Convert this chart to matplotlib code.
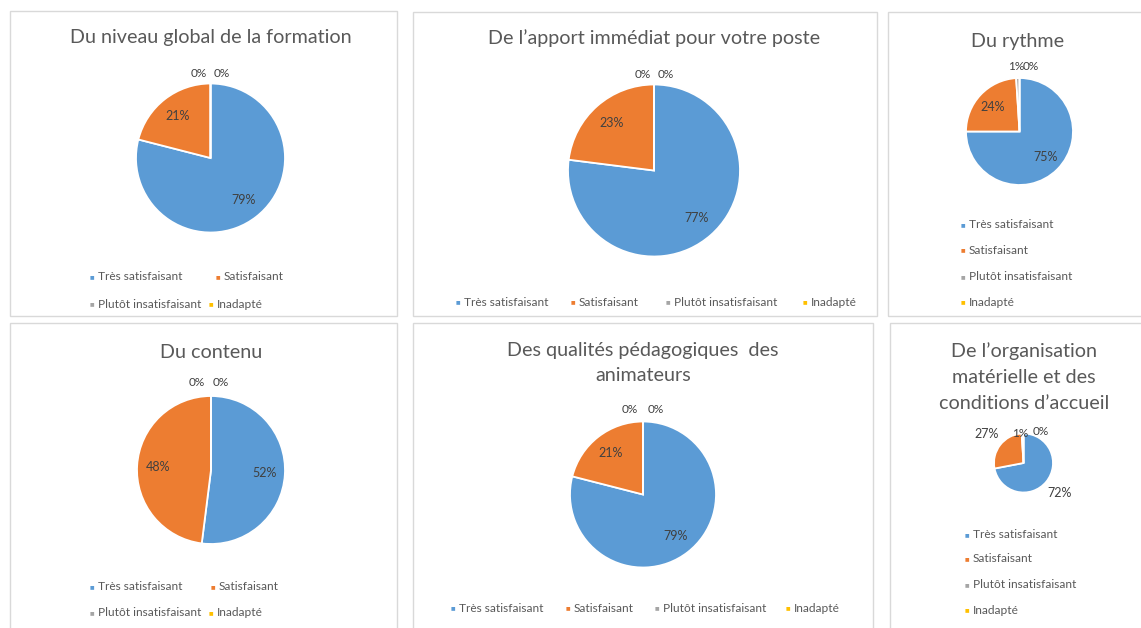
import matplotlib
matplotlib.use("Agg")
import matplotlib.pyplot as plt
from matplotlib.patches import Rectangle
import numpy as np

plt.rcParams['font.family'] = ['Lato', 'DejaVu Sans']

W, H = 1141, 628

categories = ["Très satisfaisant", "Satisfaisant", "Plutôt insatisfaisant", "Inadapté"]
colors = ["#5B9BD5", "#ED7D31", "#A5A5A5", "#FFC000"]

titles = [
    "Du niveau global de la formation",
    "De l’apport immédiat pour votre poste",
    "Du rythme",
    "Du contenu",
    "Des qualités pédagogiques  des\nanimateurs",
    "De l’organisation\nmatérielle et des\nconditions d’accueil",
]
niveau_global = [79, 21, 0, 0]
apport_immediat = [77, 23, 0, 0]
rythme = [75, 24, 1, 0]
contenu = [52, 48, 0, 0]
qualites_pedagogiques = [79, 21, 0, 0]
organisation = [72, 27, 1, 0]
series = [niveau_global, apport_immediat, rythme, contenu, qualites_pedagogiques, organisation]

# ---- layout (pixels) ----
panels = [(10, 11, 397, 316), (413, 12, 877, 316), (888, 12, 1150, 316),
          (10, 323, 397, 640), (413, 323, 873, 640), (890, 323, 1150, 640)]
pies = [(210.5, 158, 74.5), (654, 170.5, 86), (1019.5, 131.5, 53.5),
        (211, 470, 74), (643, 494.5, 73), (1023.5, 463, 29.5)]
title_pos = [(211, 38), (654, 38), (1018, 42), (211, 352), (643, 363), (1024, 377)]
label_r = [0.72, 0.74, 0.68, 0.72, 0.72, 1.6]
small_offsets = [[(-11.5, -10), (11.5, -10)], [(-11.5, -10), (12, -10)],
                 [(-3, -11), (11, -11)], [(-14, -13), (10, -13)],
                 [(-13, -12), (13, -12)], [(-3, 0), (17, -2)]]
# legend item positions (marker x, y)
legend_pos = [
    [(92, 277), (218, 277), (92, 304), (211, 304)],
    [(458, 302), (573, 302), (668, 302), (805, 302)],
    [(963, 225), (963, 250), (963, 277), (963, 302)],
    [(92, 587), (213, 587), (92, 613), (211, 613)],
    [(453, 608), (568, 608), (657, 608), (788, 608)],
    [(967, 535), (967, 559), (967, 585), (967, 610)],
]

fig = plt.figure(figsize=(W / 100, H / 100), dpi=100)
fig.patch.set_facecolor("white")

def fx(x):
    return x / W

def fy(y):
    return 1 - y / H

for (x0, y0, x1, y1) in panels:
    fig.add_artist(Rectangle((fx(x0), fy(y1)), fx(x1) - fx(x0), fy(y0) - fy(y1),
                             transform=fig.transFigure, fill=False,
                             edgecolor="#D9D9D9", linewidth=1.0))

for i, vals in enumerate(series):
    cx, cy, r = pies[i]
    ax = fig.add_axes([fx(cx - r), fy(cy + r), fx(2 * r), 2 * r / H])
    wedges, _ = ax.pie(vals, colors=colors, startangle=90, counterclock=False,
                       wedgeprops=dict(edgecolor="white", linewidth=1.3))
    ax.set_xlim(-1, 1)
    ax.set_ylim(-1, 1)
    ax.axis("off")
    total = float(sum(vals))
    ang = 90.0
    k = 0
    for v in vals:
        span = 360.0 * v / total
        mid = np.deg2rad(ang - span / 2)
        ang -= span
        txt = f"{v}%"
        if v >= 5:
            rr = label_r[i]
            ax.text(rr * np.cos(mid), rr * np.sin(mid), txt, ha="center", va="center",
                    fontsize=9, color="#404040", clip_on=False)
        else:
            dx, dy = small_offsets[i][k]
            k += 1
            ax.annotate(txt, xy=(0, 1), xytext=(dx, -dy), textcoords="offset pixels",
                        ha="center", va="center", fontsize=8.5, color="#404040",
                        annotation_clip=False)

    tx, ty = title_pos[i]
    fig.text(fx(tx), fy(ty), titles[i], ha="center", va="center", fontsize=14.2,
             color="#595959", linespacing=1.62)

    for j, (mx, my) in enumerate(legend_pos[i]):
        fig.text(fx(mx), fy(my), "■", ha="center", va="center", fontsize=3.5,
                 color=colors[j])
        fig.text(fx(mx + 6), fy(my), categories[j], ha="left", va="center",
                 fontsize=8.6, color="#595959")

fig.savefig("out.png", dpi=100, facecolor="white")
